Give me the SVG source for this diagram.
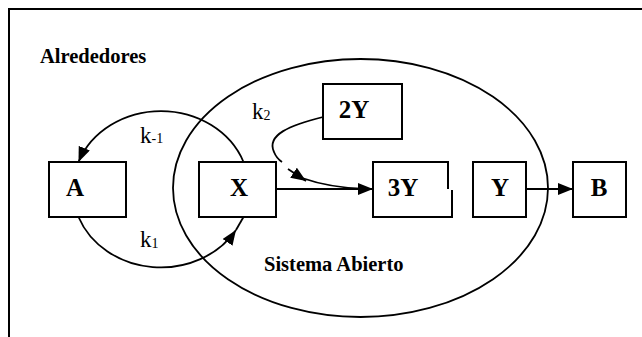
<svg xmlns="http://www.w3.org/2000/svg" width="642" height="337" viewBox="0 0 642 337">
<style>
.box{fill:#fff;stroke:#000;stroke-width:2}
.lbl{font-family:"Liberation Serif","Times New Roman",serif;font-weight:bold;font-size:25px;text-anchor:middle;fill:#000}
.title{font-family:"Liberation Serif","Times New Roman",serif;font-weight:bold;font-size:20.5px;fill:#000}
.k{font-family:"Liberation Serif","Times New Roman",serif;font-size:23px;fill:#000}
.sub{font-size:14px}
.ln{fill:none;stroke:#000;stroke-width:1.8}
</style>
<defs>
<marker id="ah" markerUnits="userSpaceOnUse" markerWidth="16" markerHeight="13" refX="15" refY="6" orient="auto">
<path d="M0,0 L15,6 L0,12 Z" fill="#000"/>
</marker>
</defs>
<g id="frame">
<line x1="8" y1="9" x2="642" y2="9" stroke="#000" stroke-width="2"/>
<line x1="9" y1="8" x2="9" y2="337" stroke="#000" stroke-width="2"/>
</g>
<g id="sistema">
<ellipse cx="360.5" cy="188" rx="187.5" ry="129" fill="none" stroke="#000" stroke-width="1.8"/>
</g>
<g id="connectors">
<path class="ln" d="M243.5,162 A88,78 0 0 0 78.5,162" marker-end="url(#ah)"/>
<path class="ln" d="M78.5,217 A88,78 0 0 0 236,230" marker-end="url(#ah)"/>
<path class="ln" d="M236,230 L243.5,217"/>
<path class="ln" d="M276,189 H373" marker-end="url(#ah)"/>
<path class="ln" d="M523,189 H573" marker-end="url(#ah)"/>
<path class="ln" d="M323,117 C290,125 266,135 274,152 C276,157 279,160 282,162"/>
<path class="ln" d="M288,169 L306,181" marker-end="url(#ah)"/>
<path class="ln" d="M302,178 C322,185 340,188 365,189"/>
</g>
<g id="A"><rect class="box" x="49" y="162" width="77" height="55"/><text class="lbl" x="75" y="196">A</text></g>
<g id="X"><rect class="box" x="199" y="162" width="77" height="55"/><text class="lbl" x="239" y="196">X</text></g>
<g id="Y2"><rect class="box" x="323" y="84" width="79" height="55"/><text class="lbl" x="354" y="118">2Y</text></g>
<g id="Y3"><path d="M448,189 V162 H373 V217 H452 V190" fill="#fff" stroke="#000" stroke-width="2"/><text class="lbl" x="403" y="196">3Y</text></g>
<g id="Y"><rect class="box" x="473" y="162" width="53" height="55"/><text class="lbl" x="500" y="196">Y</text></g>
<g id="B"><rect class="box" x="573" y="162" width="53" height="55"/><text class="lbl" x="599" y="196">B</text></g>
<g id="labels">
<text class="title" x="40" y="63">Alrededores</text>
<text class="title" x="264" y="271">Sistema Abierto</text>
<text class="k" x="140" y="143">k<tspan class="sub">-1</tspan></text>
<text class="k" x="140" y="247">k<tspan class="sub" dy="1">1</tspan></text>
<text class="k" x="252" y="119">k<tspan class="sub" dy="1">2</tspan></text>
</g>
</svg>
